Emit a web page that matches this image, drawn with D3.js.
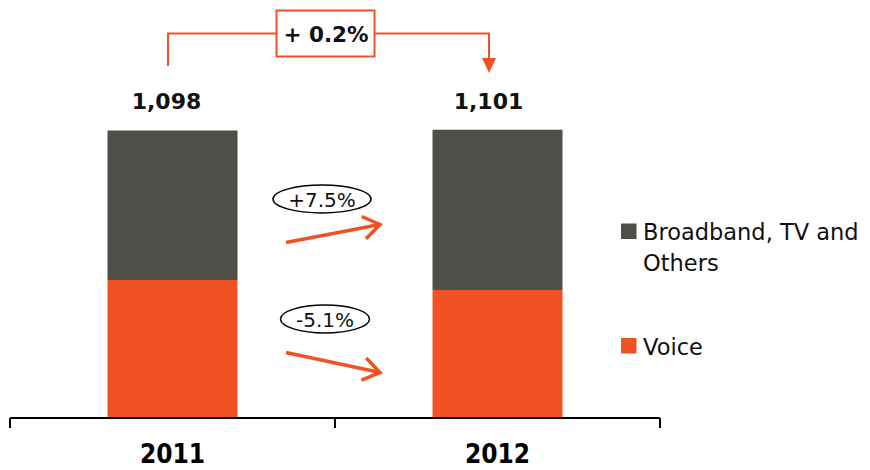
<!DOCTYPE html>
<html>
<head>
<meta charset="utf-8">
<script src="https://cdn.jsdelivr.net/npm/d3@7"></script>
<style>
  html, body { margin: 0; padding: 0; background: #fff; }
  svg { display: block; }
</style>
</head>
<body>
<script>
// ---- data ----
const years = ["2011", "2012"];
const voice = [527, 489];
const broadband = [571, 612];
const totalLabels = ["1,098", "1,101"];
const totalChange = "+ 0.2%";
const seriesChange = ["+7.5%", "-5.1%"];
const seriesNames = ["Broadband, TV and", "Others", "Voice"];

const ORANGE = "#F05223";
const GREY = "#4F4F49";
const W = 870, H = 470;

const svg = d3.select("body").append("svg").attr("width", W).attr("height", H);

const x = d3.scaleBand().domain(years).range([10, 660]).padding(0);
const y = d3.scaleLinear().domain([0, 1100]).range([418, 130]);
const barW = x.bandwidth() * 0.4;
const cx = d => x(d) + x.bandwidth() / 2;

const rows = years.map((yr, i) => ({ year: yr, Voice: voice[i], Broadband: broadband[i] }));
const stack = d3.stack().keys(["Voice", "Broadband"])(rows);
const colors = { Voice: ORANGE, Broadband: GREY };

svg.append("g").selectAll("g").data(stack).join("g")
  .attr("fill", s => colors[s.key])
  .selectAll("rect").data(s => s).join("rect")
  .attr("x", d => cx(d.data.year) - barW / 2)
  .attr("width", barW)
  .attr("y", d => y(d[1]))
  .attr("height", d => y(d[0]) - y(d[1]));

// axis
const axis = svg.append("g").attr("transform", `translate(0,${y(0)})`)
  .call(d3.axisBottom(x).tickSize(0).tickFormat(""));
axis.select(".domain").remove();
axis.append("line").attr("x1", x.range()[0]).attr("x2", x.range()[1])
  .attr("y1", 0).attr("y2", 0).attr("stroke", "#000").attr("stroke-width", 2);
const tickXs = [x(years[0]), x(years[1]), x(years[1]) + x.bandwidth()];
axis.selectAll(".tk").data(tickXs).join("line").attr("class", "tk")
  .attr("x1", d => d).attr("x2", d => d).attr("y1", 0).attr("y2", 10)
  .attr("stroke", "#000").attr("stroke-width", 2);
axis.selectAll(".yl").data(years).join("text").attr("class", "yl")
  .attr("x", d => cx(d)).attr("y", 45)
  .attr("text-anchor", "middle")
  .attr("font-family", "'Liberation Sans Narrow', 'DejaVu Sans Condensed', 'Liberation Sans', sans-serif")
  .attr("font-weight", "bold").attr("font-size", 26)
  .attr("fill", "#000").text(d => d);

// totals
svg.selectAll(".tot").data(years).join("text").attr("class", "tot")
  .attr("x", (d, i) => cx(d) - (i === 0 ? 6 : 9))
  .attr("y", 108.5)
  .attr("text-anchor", "middle")
  .attr("font-family", "'DejaVu Sans', sans-serif")
  .attr("font-weight", "bold").attr("font-size", 22)
  .attr("fill", "#111").text((d, i) => totalLabels[i]);

// total change bracket
const lx = cx(years[0]) - 4.5, rx = cx(years[1]) - 8.5, by = 33.5;
svg.append("path")
  .attr("d", `M${lx},66 V${by} H${rx} V60`)
  .attr("fill", "none").attr("stroke", ORANGE).attr("stroke-width", 2);
svg.append("path")
  .attr("d", `M${rx - 7},58 L${rx + 7},58 L${rx},73 Z`)
  .attr("fill", ORANGE);
const boxCx = (276.5 + 374.5) / 2;
svg.append("rect").attr("x", 276.5).attr("y", 10.5).attr("width", 98).attr("height", 46)
  .attr("fill", "#fff").attr("stroke", ORANGE).attr("stroke-width", 2);
svg.append("text").attr("x", boxCx + 0.5).attr("y", 42)
  .attr("text-anchor", "middle")
  .attr("font-family", "'DejaVu Sans', sans-serif")
  .attr("font-weight", "bold").attr("font-size", 21.5)
  .attr("fill", "#111").text(totalChange);

// series change annotations
const midX = (cx(years[0]) + cx(years[1])) / 2;
const ann = [
  { ex: midX - 13, ey: 199, erx: 49, ery: 14, x1: 286, y1: 242.5, x2: 380, y2: 224.5 },
  { ex: midX - 10, ey: 319, erx: 44.5, ery: 14, x1: 286, y1: 352.5, x2: 380, y2: 372.5 }
];
ann.forEach((a, i) => {
  svg.append("ellipse").attr("cx", a.ex).attr("cy", a.ey).attr("rx", a.erx).attr("ry", a.ery)
    .attr("fill", "#fff").attr("stroke", "#000").attr("stroke-width", 1.5);
  svg.append("text").attr("x", a.ex).attr("y", a.ey + 7.5)
    .attr("text-anchor", "middle")
    .attr("font-family", "'DejaVu Sans', sans-serif")
    .attr("font-size", 20).attr("fill", "#111").text(seriesChange[i]);
  const ang = Math.atan2(a.y2 - a.y1, a.x2 - a.x1);
  const L = 20, sp = 0.6;
  const p1 = [a.x2 - L * Math.cos(ang - sp), a.y2 - L * Math.sin(ang - sp)];
  const p2 = [a.x2 - L * Math.cos(ang + sp), a.y2 - L * Math.sin(ang + sp)];
  svg.append("path")
    .attr("d", `M${a.x1},${a.y1} L${a.x2},${a.y2} M${p1[0]},${p1[1]} L${a.x2},${a.y2} L${p2[0]},${p2[1]}`)
    .attr("fill", "none").attr("stroke", ORANGE).attr("stroke-width", 3.5)
    .attr("stroke-linecap", "butt").attr("stroke-linejoin", "miter");
});

// legend
const leg = svg.append("g").attr("font-family", "'DejaVu Sans', sans-serif")
  .attr("font-size", 22.5).attr("fill", "#111");
leg.append("rect").attr("x", 621).attr("y", 223.5).attr("width", 15.5).attr("height", 15.5).attr("fill", GREY);
leg.append("text").attr("x", 643).attr("y", 240).text(seriesNames[0]);
leg.append("text").attr("x", 643).attr("y", 271).text(seriesNames[1]);
leg.append("rect").attr("x", 621).attr("y", 338).attr("width", 15.5).attr("height", 15.5).attr("fill", ORANGE);
leg.append("text").attr("x", 643).attr("y", 354.5).text(seriesNames[2]);
</script>
</body>
</html>
